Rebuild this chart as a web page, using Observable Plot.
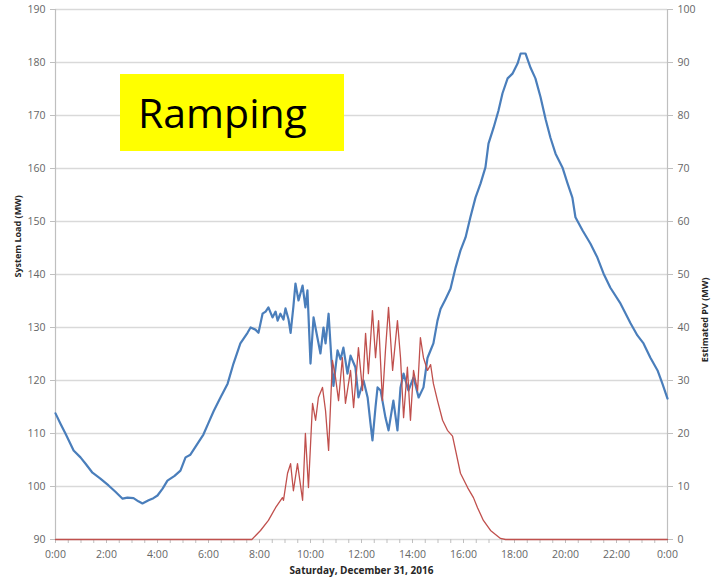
<!DOCTYPE html>
<html>
<head>
<meta charset="utf-8">
<script src="https://cdn.jsdelivr.net/npm/d3@7"></script>
<script src="https://cdn.jsdelivr.net/npm/@observablehq/plot@0.6"></script>
<style>
  body { margin: 0; background: #fff; }
  #wrap { position: relative; width: 712px; height: 581px; }
  #ramp {
    position: absolute; left: 120px; top: 74px; width: 224px; height: 77px;
    background: #ffff00; font-family: "Open Sans", sans-serif; font-size: 41px;
    line-height: 77px; padding-left: 18px; box-sizing: border-box; color: #000;
  }
</style>
</head>
<body>
<div id="wrap"><div id="ramp">Ramping</div></div>
<script>
// System load (MW), time in hours
const loadHour = [0,0.2,0.39,0.71,0.98,1.18,1.45,1.76,2.08,2.35,2.63,2.82,3.06,3.25,3.41,3.65,3.84,4.0,4.2,4.39,4.67,4.9,5.1,5.29,5.57,5.8,6.0,6.2,6.47,6.75,6.98,7.25,7.53,7.65,7.84,7.96,8.12,8.24,8.35,8.51,8.63,8.71,8.82,8.94,9.02,9.14,9.22,9.33,9.41,9.53,9.61,9.69,9.8,9.88,10.0,10.12,10.27,10.39,10.51,10.59,10.71,10.82,10.9,11.06,11.18,11.29,11.45,11.57,11.76,11.88,12.08,12.24,12.35,12.43,12.55,12.63,12.75,12.94,13.06,13.25,13.41,13.53,13.65,13.84,14.04,14.24,14.43,14.59,14.71,14.82,14.98,15.1,15.29,15.49,15.69,15.88,16.08,16.27,16.47,16.67,16.86,16.98,17.18,17.37,17.53,17.73,17.92,18.12,18.24,18.43,18.63,18.82,19.02,19.22,19.41,19.61,19.88,20.08,20.27,20.39,20.67,20.98,21.25,21.49,21.76,22.16,22.55,22.82,23.06,23.33,23.61,23.8,24.0];
const loadMW = [113.8,111.8,110,106.8,105.5,104.3,102.6,101.5,100.2,99.0,97.7,97.9,97.8,97.2,96.8,97.4,97.8,98.3,99.6,101.1,102.0,103,105.5,106.0,108.1,109.8,112.0,114.2,116.8,119.4,123.2,127,129,130,129.6,129,132.6,133.0,133.8,131.9,133.0,131.3,132.6,131.5,133.6,131.5,129,134,138.3,135.1,136.5,137.9,133.8,137,123.2,131.9,128.1,125.1,130.0,127,132.6,124.0,119,125.7,124,126.2,121.3,124.7,122.5,116.8,120,116.8,112,108.7,115,118.7,118.1,113,110.6,116.2,110.6,118.7,121.3,118.1,120.6,116.8,118.7,124.3,125.7,127,131.3,133.5,135.3,137.3,141.3,144.5,147,150.8,154.5,157.2,160.2,164.7,167.7,170.9,174.2,177,177.9,179.8,181.7,181.7,179,177,173.5,169.3,165.8,162.8,160.2,157.2,154.5,150.8,148.3,145.8,143.2,140.2,137.5,134.5,130.8,128.5,127,124.3,121.9,119.4,116.6];

// Estimated PV (MW), time in hours
const pvHour = [0,7.7,8.04,8.35,8.63,8.9,8.94,9.1,9.22,9.33,9.49,9.69,9.8,9.92,10.08,10.2,10.31,10.47,10.59,10.71,10.86,10.98,11.1,11.25,11.37,11.57,11.69,11.88,12.04,12.16,12.27,12.43,12.55,12.67,12.82,12.94,13.06,13.22,13.41,13.53,13.65,13.8,13.92,14.04,14.2,14.31,14.43,14.59,14.71,14.82,14.98,15.18,15.37,15.57,15.69,15.88,16.16,16.39,16.55,16.78,17.06,17.45,17.65,24];
const pvMW = [0,0,1.7,3.6,6,7.9,7.4,12.5,14.3,9.2,14.3,7.4,20,9.8,25.7,22.5,26.8,28.7,24.3,16.8,33.8,30.6,26.2,34.3,25.7,31.9,24.9,36.2,28.1,38.9,31.3,43.2,34.3,41.3,26.2,35.7,43.8,31.9,41.3,34.3,23,32.5,22.5,31.9,28.1,38.1,34.3,31.9,33,29.4,26.2,22.5,20.6,19.5,16.8,12.5,9.8,7.9,6,3.6,1.7,0.2,0,0];

// Axis ticks
const leftTicks = [90,100,110,120,130,140,150,160,170,180,190];
const rightTicks = [0,10,20,30,40,50,60,70,80,90,100];
const hourTicks = [0,2,4,6,8,10,12,14,16,18,20,22,24];
const minorTicks = d3.range(0, 24.01, 0.5);

const load = loadHour.map((h, i) => ({h, v: loadMW[i]}));
const pv = pvHour.map((h, i) => ({h, v: pvMW[i]}));
// PV 0..100 maps onto load 90..190
const pvToY = v => v + 90;

const chart = Plot.plot({
  width: 712,
  height: 581,
  marginLeft: 55,
  marginRight: 45,
  marginTop: 9,
  marginBottom: 42,
  x: {domain: [0, 24]},
  y: {domain: [90, 190]},
  style: {fontFamily: "Open Sans, sans-serif", fontSize: "10.5px", color: "#595959", background: "transparent"},
  marks: [
    Plot.gridY(leftTicks, {stroke: "#d9d9d9", strokeOpacity: 1, strokeWidth: 1.6}),
    Plot.ruleX([0, 24], {stroke: "#bfbfbf", strokeWidth: 1.2}),
    Plot.axisY(leftTicks, {anchor: "left", tickSize: 5, tickPadding: 5, stroke: "#bfbfbf", fill: "#666666", label: null}),
    Plot.axisY(rightTicks.map(pvToY), {anchor: "right", tickSize: 5, tickPadding: 5, stroke: "#bfbfbf", fill: "#666666", label: null, tickFormat: d => String(d - 90)}),
    Plot.axisX(minorTicks, {tickSize: 4, stroke: "#bfbfbf", tickFormat: () => "", label: null}),
    Plot.axisX(hourTicks, {tickSize: 0, tickPadding: 11, fill: "#666666", label: null, tickFormat: h => (h % 24) + ":00"}),
    Plot.text(["System Load (MW)"], {frameAnchor: "left", dx: -37, dy: 3, rotate: -90, fontWeight: "bold", fontSize: 9, fill: "#262626"}),
    Plot.text(["Estimated PV (MW)"], {frameAnchor: "right", dx: 38, dy: 3, rotate: -90, fontWeight: "bold", fontSize: 9, fill: "#262626"}),
    Plot.text(["Saturday, December 31, 2016"], {frameAnchor: "bottom", dy: 34, fontWeight: "bold", fontSize: 10, fill: "#262626"}),
    Plot.line(load, {x: "h", y: "v", stroke: "#4a7ebb", strokeWidth: 2.2, curve: "linear"}),
    Plot.line(pv, {x: "h", y: d => pvToY(d.v), stroke: "#c0504d", strokeWidth: 1.3, curve: "linear"})
  ]
});
document.getElementById("wrap").prepend(chart);
chart.style.position = "absolute";
chart.style.left = "0";
chart.style.top = "0";
</script>
</body>
</html>
